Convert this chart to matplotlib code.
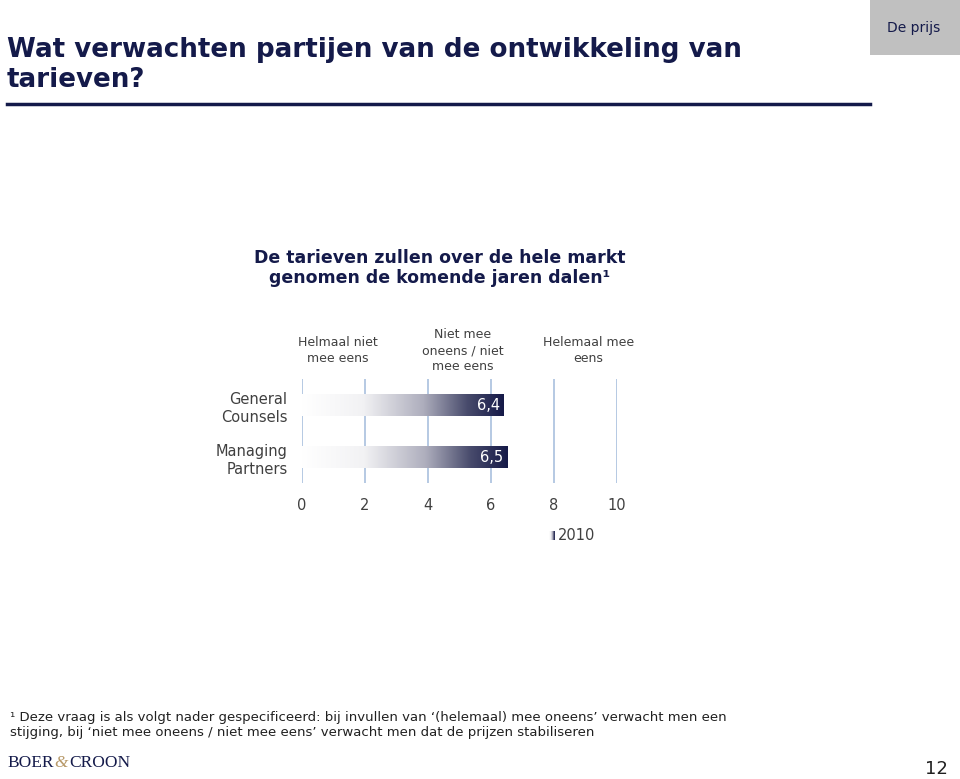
import matplotlib
matplotlib.use("Agg")
import matplotlib.pyplot as plt
import numpy as np
from matplotlib.colors import LinearSegmentedColormap
from matplotlib.transforms import blended_transform_factory

plt.rcParams["font.family"] = ["DejaVu Sans"]

# ---- data ----
categories = ["General\nCounsels", "Managing\nPartners"]
values_2010 = [6.4, 6.5]
value_labels = ["6,4", "6,5"]
series_name = "2010"
x_ticks = [0, 2, 4, 6, 8, 10]
header_labels = ["Helmaal niet\nmee eens", "Niet mee\noneens / niet\nmee eens", "Helemaal mee\neens"]
header_x = [1.15, 5.1, 9.1]

title = "Wat verwachten partijen van de ontwikkeling van\ntarieven?"
subtitle = "De tarieven zullen over de hele markt\ngenomen de komende jaren dalen\u00b9"
footnote = ("\u00b9 Deze vraag is als volgt nader gespecificeerd: bij invullen van \u2018(helemaal) mee oneens\u2019 verwacht men een\n"
            "stijging, bij \u2018niet mee oneens / niet mee eens\u2019 verwacht men dat de prijzen stabiliseren")
logo_parts = ["BOER", "&", "CROON"]

NAVY = "#141a4a"
W, H = 960, 779
fig = plt.figure(figsize=(W / 100, H / 100), dpi=100)
fig.patch.set_facecolor("white")

def fx(px):
    return px / W

def fy(py):
    return 1 - py / H

# header box
fig.patches.append(plt.Rectangle((fx(870), fy(55)), fx(90), 55 / H, transform=fig.transFigure,
                                 facecolor="#c0c0c0", edgecolor="none"))
fig.text(fx(914), fy(28), "De prijs", ha="center", va="center", fontsize=10, color=NAVY)

# title
fig.text(fx(7), fy(65), title, ha="left", va="center", fontsize=18.8, fontweight="bold",
         color=NAVY, linespacing=1.2)
fig.add_artist(plt.Line2D([fx(7), fx(870)], [fy(104), fy(104)], transform=fig.transFigure,
                          color=NAVY, lw=2.5))

# subtitle
fig.text(fx(440), fy(268), subtitle, ha="center", va="center", fontsize=12.5, fontweight="bold",
         color=NAVY, linespacing=1.2)

# main axes
ax = fig.add_axes([fx(301.5), fy(483), fx(617) - fx(301.5), (483 - 379) / H])
ax.set_xlim(0, 10)
ax.set_ylim(-0.5, 1.5)
for s in ax.spines.values():
    s.set_visible(False)
ax.set_xticks(x_ticks)
ax.set_xticklabels([str(t) for t in x_ticks], fontsize=10.5, color="#404040")
ax.tick_params(axis="x", length=0, pad=11)
ax.grid(axis="x", color="#a9c0de", lw=1.2)
ax.set_axisbelow(True)

ypos = [1, 0]
ax.set_yticks(ypos)
ax.set_yticklabels(categories, fontsize=10.5, color="#404040", linespacing=1.3)
ax.tick_params(axis="y", length=0, pad=10)
for lbl in ax.get_yticklabels():
    lbl.set_ha("right")

cmap = LinearSegmentedColormap.from_list(
    "grad", [(0, "#ffffff"), (0.3, "#f2f2f4"), (0.6, "#aeaebd"), (0.82, "#484b6c"), (1, "#161a48")])
grad = np.linspace(0, 1, 256).reshape(1, -1)
bh = 0.42
for y, v, lab in zip(ypos, values_2010, value_labels):
    ax.imshow(grad, cmap=cmap, aspect="auto", extent=[0, v, y - bh / 2, y + bh / 2],
              interpolation="bicubic", zorder=2)
    ax.text(v - 0.1, y, lab, ha="right", va="center", color="white", fontsize=10.5, zorder=3)
ax.set_xlim(0, 10)
ax.set_ylim(-0.5, 1.5)

tr = blended_transform_factory(ax.transData, fig.transFigure)
for hx, hl in zip(header_x, header_labels):
    ax.text(hx, fy(351), hl, transform=tr, ha="center", va="center", fontsize=9,
            color="#404040", linespacing=1.3)

# legend
lax = fig.add_axes([fx(549), fy(540), fx(6), 9 / H])
lax.imshow(grad, cmap=cmap, aspect="auto", extent=[0, 1, 0, 1])
lax.set_axis_off()
fig.text(fx(558), fy(535), series_name, ha="left", va="center", fontsize=10.5, color="#404040")

# footnote
fig.text(fx(10), fy(725), footnote, ha="left", va="center", fontsize=9.5, color="#202020",
         linespacing=1.25)

# logo (parts placed one after another) and page number
fig.canvas.draw()
renderer = fig.canvas.get_renderer()
xcur = 7
logo_colors = [NAVY, "#b89a6a", NAVY]
logo_styles = ["normal", "italic", "normal"]
for part, col, st in zip(logo_parts, logo_colors, logo_styles):
    t = fig.text(fx(xcur), fy(763), part, ha="left", va="center", fontsize=12.5,
                 family="Liberation Serif", color=col, style=st)
    bb = t.get_window_extent(renderer)
    xcur = xcur + bb.width + 1
fig.text(fx(948), fy(769), "12", ha="right", va="center", fontsize=13, color="#202020")

fig.savefig("out.png", dpi=100)
